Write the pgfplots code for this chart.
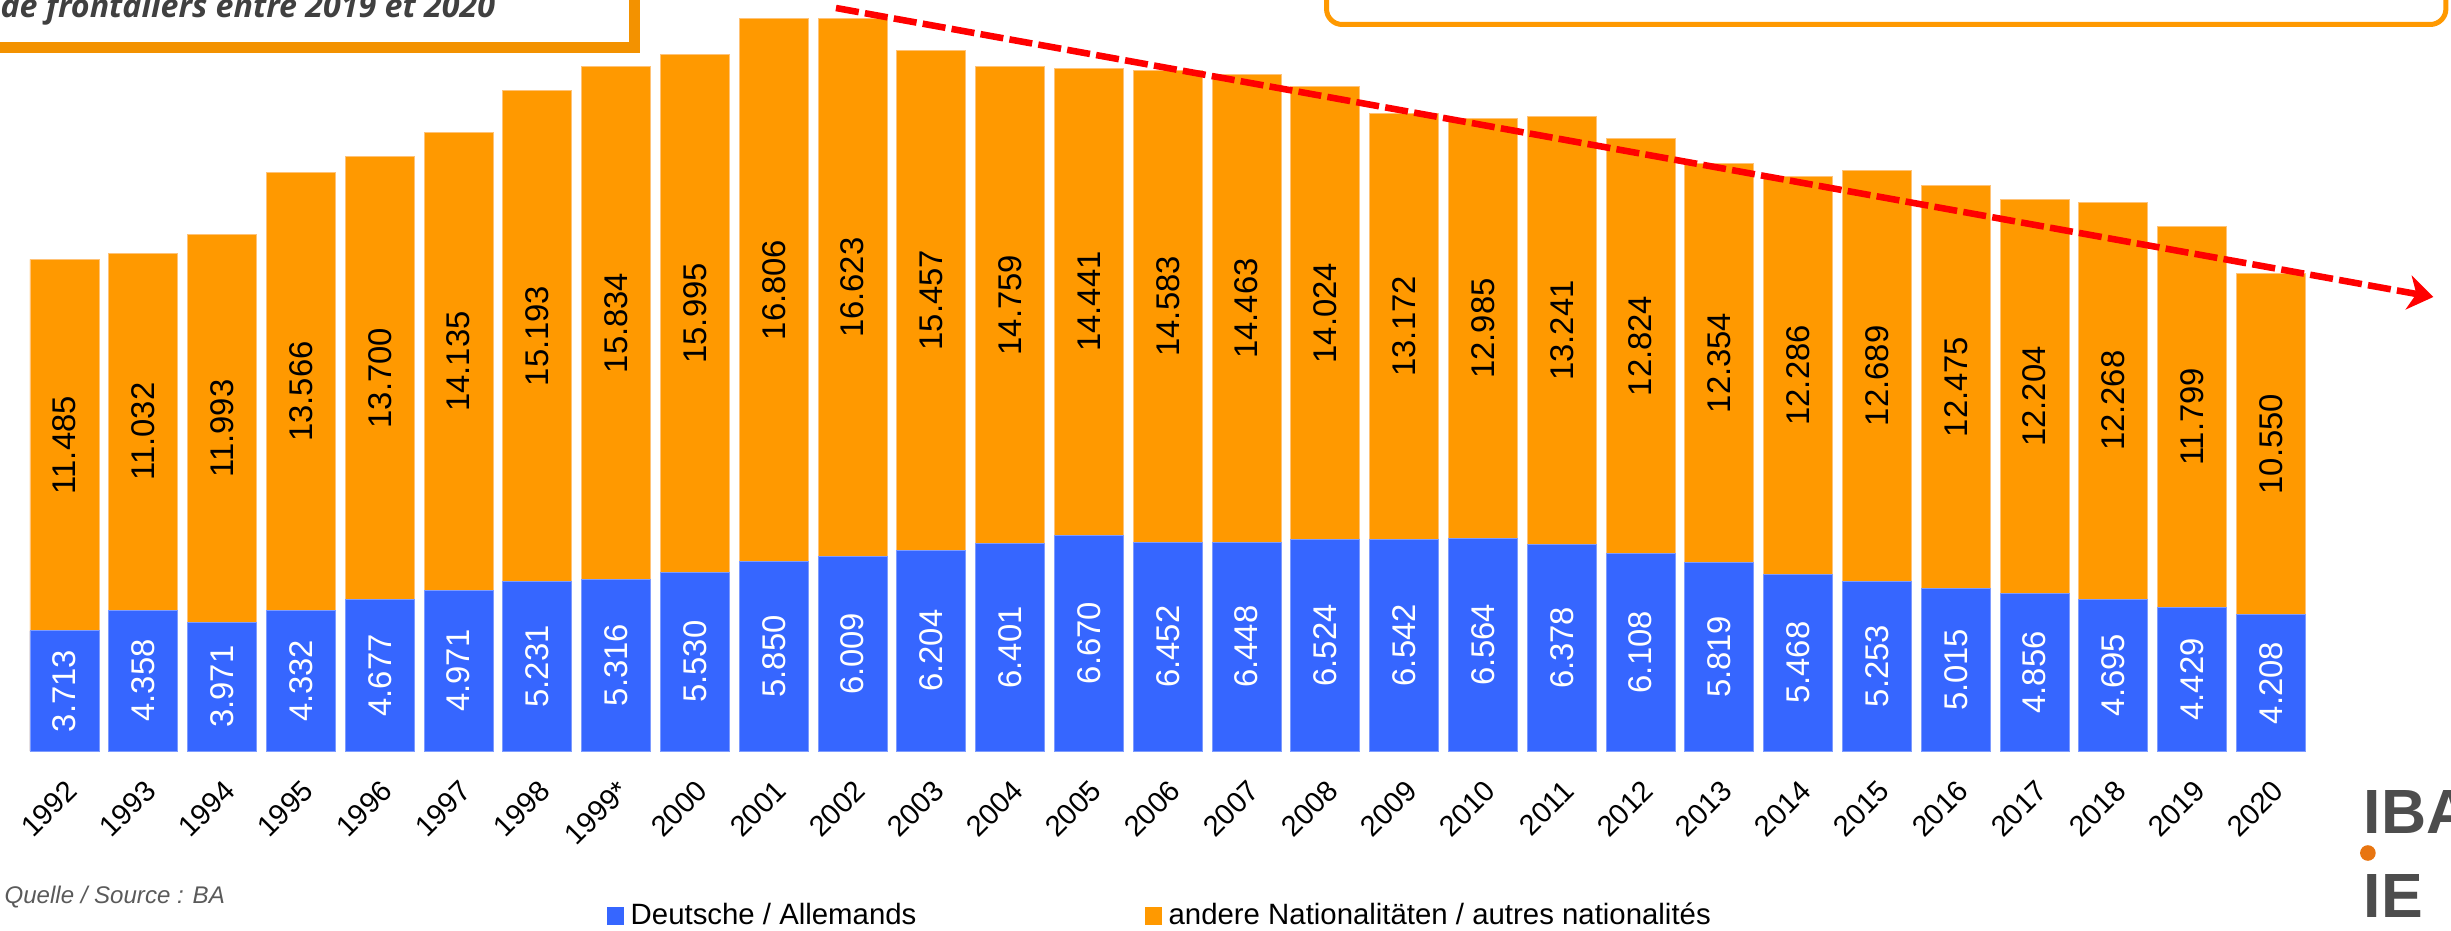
\documentclass[border=0pt]{standalone}
\usepackage{fontspec}
\setmainfont{Liberation Sans}
\newfontfamily\boxfont{Open Sans}
\usepackage{pgfplots}
\pgfplotsset{compat=1.18}
\usepackage{pgfplotstable}
\usetikzlibrary{arrows.meta}

\definecolor{bluec}{RGB}{54,102,255}
\definecolor{bluel}{RGB}{125,155,255}
\definecolor{orangec}{RGB}{255,153,0}
\definecolor{orangel}{RGB}{255,195,120}
\definecolor{boxorange}{RGB}{243,146,0}
\definecolor{textgray}{RGB}{64,64,64}
\definecolor{srcgray}{RGB}{90,90,90}
\definecolor{logogray}{RGB}{77,77,77}
\definecolor{logoorange}{RGB}{232,117,17}

% Grenzgaenger: Deutsche / andere Nationalitaeten
\pgfplotstableread{
x  de   other
0  3713 11485
1  4358 11032
2  3971 11993
3  4332 13566
4  4677 13700
5  4971 14135
6  5231 15193
7  5316 15834
8  5530 15995
9  5850 16806
10 6009 16623
11 6204 15457
12 6401 14759
13 6670 14441
14 6452 14583
15 6448 14463
16 6524 14024
17 6542 13172
18 6564 12985
19 6378 13241
20 6108 12824
21 5819 12354
22 5468 12286
23 5253 12689
24 5015 12475
25 4856 12204
26 4695 12268
27 4429 11799
28 4208 10550
}\frontaliers

\begin{document}
\begin{tikzpicture}
\path[use as bounding box] (0,-57.28pt) rectangle (784.32pt,240.32pt);
\clip (0,-57.28pt) rectangle (784.32pt,240.32pt);
\begin{axis}[
    at={(0,0)}, anchor=south west,
    scale only axis,
    width=784.32pt, height=240.32pt,
    xmin=-0.8185, xmax=30.285,
    ymin=0, ymax=23215,
    clip=false,
    axis line style={draw=none},
    major tick length=0pt,
    ytick=\empty,
    xtick={0,...,28},
    xticklabels={1992,1993,1994,1995,1996,1997,1998,1999*,2000,2001,2002,2003,2004,2005,2006,2007,2008,2009,2010,2011,2012,2013,2014,2015,2016,2017,2018,2019,2020},
    xticklabel style={font=\fontsize{9.3}{10}\selectfont, inner sep=0pt, yshift=-8.6pt, rotate=45, anchor=north east},
    legend cell align=left,
    legend columns=2,
    legend style={at={(axis cs:6.872,-5100)}, anchor=west, draw=none, fill=none,
      inner sep=0pt, font=\fontsize{9.4}{11}\selectfont,
      /tikz/every even column/.append style={column sep=71pt}},
  ]

  % boxes at the top
  \draw[boxorange, line width=3.5pt, fill=white] (axis cs:-1.453,24900) rectangle (axis cs:7.233,21747);
  \node[anchor=base west, inner sep=0pt, text=textgray, font=\boxfont\bfseries\itshape\fontsize{10.3}{12}\selectfont]
    at (axis cs:-0.8185,22659) {de frontaliers entre 2019 et 2020};
  \draw[orangec, line width=1.6pt, rounded corners=5pt, fill=white] (axis cs:16.015,24900) rectangle (axis cs:30.22,22458);

  % legend
  \addlegendimage{legend image code/.code={\fill[bluec] (0pt,-2.65pt) rectangle (5.3pt,2.65pt);}}
  \addlegendentry{Deutsche / Allemands}
  \addlegendimage{legend image code/.code={\fill[orangec] (0pt,-2.65pt) rectangle (5.3pt,2.65pt);}}
  \addlegendentry{andere Nationalitäten / autres nationalités}

  % bars: total (orange) then Deutsche (blue) in front
  \addplot[forget plot, ybar, bar width=22.08pt, bar shift=0pt, fill=orangec, draw=orangel, line width=0.3pt]
    table[x=x, y expr=\thisrow{de}+\thisrow{other}] {\frontaliers};
  \addplot[forget plot, ybar, bar width=22.08pt, bar shift=0pt, fill=bluec, draw=bluel, line width=0.3pt]
    table[x=x, y=de] {\frontaliers};

  % value labels, centred in each segment
  \addplot[forget plot, draw=none, point meta=explicit,
    nodes near coords={\pgfmathprintnumber[fixed, precision=0, 1000 sep={.}, assume math mode=true]{\pgfplotspointmeta}},
    every node near coord/.append style={anchor=center, rotate=90, text=white, inner sep=0pt, font=\fontsize{10.5}{12}\selectfont}]
    table[x=x, y expr=\thisrow{de}/2, meta=de] {\frontaliers};
  \addplot[forget plot, draw=none, point meta=explicit,
    nodes near coords={\pgfmathprintnumber[fixed, precision=0, 1000 sep={.}, assume math mode=true]{\pgfplotspointmeta}},
    every node near coord/.append style={anchor=center, rotate=90, text=black, inner sep=0pt, font=\fontsize{10.5}{12}\selectfont}]
    table[x=x, y expr=\thisrow{de}+\thisrow{other}/2, meta=other] {\frontaliers};

  % trend arrow
  \addplot[forget plot, red, line width=2.1pt, dash pattern=on 7.4pt off 2pt,
    -{Stealth[length=8pt, width=11pt, inset=2.5pt]}]
    coordinates {(9.79,22968) (30.06,14034)};

  % source and logo
  \node[anchor=base west, inner sep=0pt, text=srcgray, font=\itshape\fontsize{7.7}{9}\selectfont]
    at (axis cs:-0.768,-4699) {Quelle / Source : BA};
  \node[anchor=base west, inner sep=0pt, text=logogray, font=\bfseries\fontsize{20}{24}\selectfont]
    at (axis cs:29.17,-2535) {IBA};
  \fill[logoorange] (axis cs:29.23,-3153) circle[radius=2.5pt];
  \node[anchor=base west, inner sep=0pt, text=logogray, font=\bfseries\fontsize{20}{24}\selectfont]
    at (axis cs:29.17,-5162) {IE};
\end{axis}
\end{tikzpicture}
\end{document}
